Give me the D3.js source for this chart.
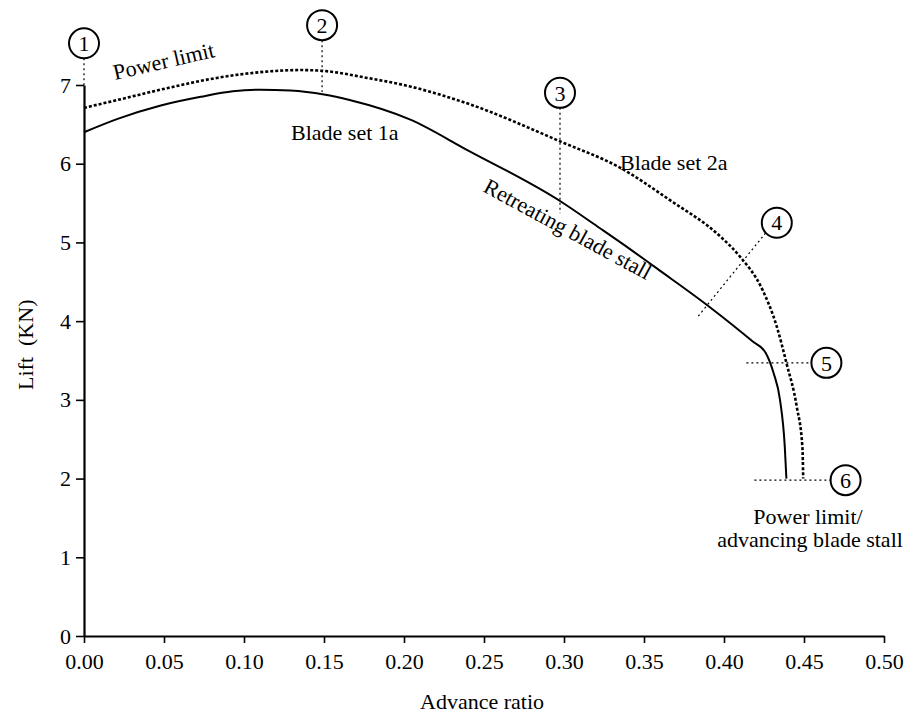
<!DOCTYPE html>
<html>
<head>
<meta charset="utf-8">
<script src="https://cdn.jsdelivr.net/npm/d3@7"></script>
<style>
  html, body { margin: 0; padding: 0; background: #fff; }
  svg text { font-family: "Liberation Serif", "DejaVu Serif", serif; fill: #000; }
</style>
</head>
<body>
<svg id="chart" width="919" height="716"></svg>
<script>
// Blade set 1a lift limit (solid) — advance ratio vs lift (kN)
const set1aMu   = [0.000, 0.021, 0.048, 0.073, 0.093, 0.110, 0.129, 0.150, 0.166, 0.204, 0.239, 0.298, 0.3225, 0.343, 0.358, 0.391, 0.418, 0.426, 0.431, 0.435, 0.438, 0.439];
const set1aLift = [6.40, 6.57, 6.74, 6.85, 6.92, 6.94, 6.93, 6.88, 6.81, 6.56, 6.18, 5.52, 5.18, 4.89, 4.67, 4.18, 3.74, 3.60, 3.34, 3.00, 2.40, 2.00];

// Blade set 2a power limit (dotted)
const set2aMu   = [0.000, 0.021, 0.052, 0.083, 0.114, 0.135, 0.149, 0.177, 0.204, 0.239, 0.298, 0.335, 0.366, 0.398, 0.410, 0.424, 0.433, 0.439, 0.4455, 0.449, 0.4495];
const set2aLift = [6.71, 6.81, 6.96, 7.09, 7.17, 7.19, 7.18, 7.09, 6.98, 6.77, 6.28, 5.95, 5.54, 5.07, 4.82, 4.40, 3.93, 3.47, 2.91, 2.40, 2.00];

// Axis ticks
const xTicks = [0, 0.05, 0.10, 0.15, 0.20, 0.25, 0.30, 0.35, 0.40, 0.45, 0.50];
const yTicks = [0, 1, 2, 3, 4, 5, 6, 7];

// Numbered markers: circle position and leader line ends (advance ratio, lift)
const markerIds   = ["1", "2", "3", "4", "5", "6"];
const markerMu    = [0.000, 0.1488, 0.2975, 0.433, 0.464, 0.476];
const markerLift  = [7.53, 7.76, 6.90, 5.25, 3.47, 1.98];
const leaderFrom  = [[0.000, 7.34], [0.1488, 7.57], [0.2975, 6.71], [0.426, 5.12], [0.414, 3.47], [0.419, 1.98]];
const leaderTo    = [[0.000, 7.00], [0.1488, 6.91], [0.2975, 5.37], [0.383, 4.04], [0.455, 3.47], [0.467, 1.98]];

const svg = d3.select("#chart");
const x = d3.scaleLinear().domain([0, 0.5]).range([84, 884]);
const y = d3.scaleLinear().domain([0, 7]).range([636, 85]);
const FS = 22;

// Axes
const xAxis = d3.axisBottom(x).tickValues(xTicks).tickFormat(d3.format(".2f")).tickSize(7).tickSizeOuter(0);
const gx = svg.append("g").attr("transform", `translate(0,${y(0)})`).call(xAxis);
gx.select(".domain").attr("stroke", "#000").attr("stroke-width", 2);
gx.selectAll(".tick line").attr("stroke", "#000").attr("stroke-width", 1.6);
gx.selectAll(".tick text").attr("font-size", FS).attr("font-family", "Liberation Serif").attr("dy", "1.05em");

const yAxis = d3.axisLeft(y).tickValues(yTicks).tickFormat(d3.format("d")).tickSize(8).tickSizeOuter(0);
const gy = svg.append("g").attr("transform", `translate(${x(0)},0)`).call(yAxis);
gy.select(".domain").attr("stroke", "#000").attr("stroke-width", 2.2);
gy.selectAll(".tick line").attr("stroke", "#000").attr("stroke-width", 1.6);
gy.selectAll(".tick text").attr("font-size", FS).attr("font-family", "Liberation Serif").attr("x", -13);

// Axis titles
svg.append("text").attr("x", (x(0) + x(0.5)) / 2 - 2).attr("y", 709)
  .attr("text-anchor", "middle").attr("font-size", FS).text("Advance ratio");
svg.append("text").attr("transform", `translate(33,${y(3.7)}) rotate(-90)`)
  .attr("text-anchor", "middle").attr("font-size", FS).attr("xml:space", "preserve").text("Lift  (KN)");

// Curves
const line = d3.line().x(d => x(d[0])).y(d => y(d[1])).curve(d3.curveMonotoneX);
svg.append("path").datum(d3.zip(set1aMu, set1aLift))
  .attr("d", line).attr("fill", "none").attr("stroke", "#000").attr("stroke-width", 2);
svg.append("path").datum(d3.zip(set2aMu, set2aLift))
  .attr("d", line).attr("fill", "none").attr("stroke", "#000").attr("stroke-width", 2.6)
  .attr("stroke-dasharray", "3,2");

// Leader lines
svg.append("g").selectAll("line").data(d3.range(markerIds.length)).join("line")
  .attr("x1", i => x(leaderFrom[i][0])).attr("y1", i => y(leaderFrom[i][1]))
  .attr("x2", i => x(leaderTo[i][0])).attr("y2", i => y(leaderTo[i][1]))
  .attr("stroke", "#000").attr("stroke-width", 1.2).attr("stroke-dasharray", "2,3");

// Numbered circles
const mk = svg.append("g").selectAll("g").data(d3.range(markerIds.length)).join("g")
  .attr("transform", i => `translate(${x(markerMu[i])},${y(markerLift[i])})`);
mk.append("circle").attr("r", 15).attr("fill", "#fff").attr("stroke", "#000").attr("stroke-width", 2);
mk.append("text").attr("text-anchor", "middle").attr("dy", "0.35em").attr("font-size", FS)
  .text(i => markerIds[i]);

// Curve labels
svg.append("text").attr("transform", "translate(115,80) rotate(-13)")
  .attr("font-size", FS).text("Power limit");
svg.append("text").attr("x", 291).attr("y", 140).attr("font-size", FS).text("Blade set 1a");
svg.append("text").attr("x", 620).attr("y", 170).attr("font-size", FS).text("Blade set 2a");
svg.append("text").attr("transform", "translate(482,191) rotate(28.5)")
  .attr("font-size", FS).text("Retreating blade stall");
svg.append("text").attr("x", 808).attr("y", 524).attr("text-anchor", "middle")
  .attr("font-size", FS).text("Power limit/");
svg.append("text").attr("x", 810).attr("y", 547).attr("text-anchor", "middle")
  .attr("font-size", FS).text("advancing blade stall");
</script>
</body>
</html>
